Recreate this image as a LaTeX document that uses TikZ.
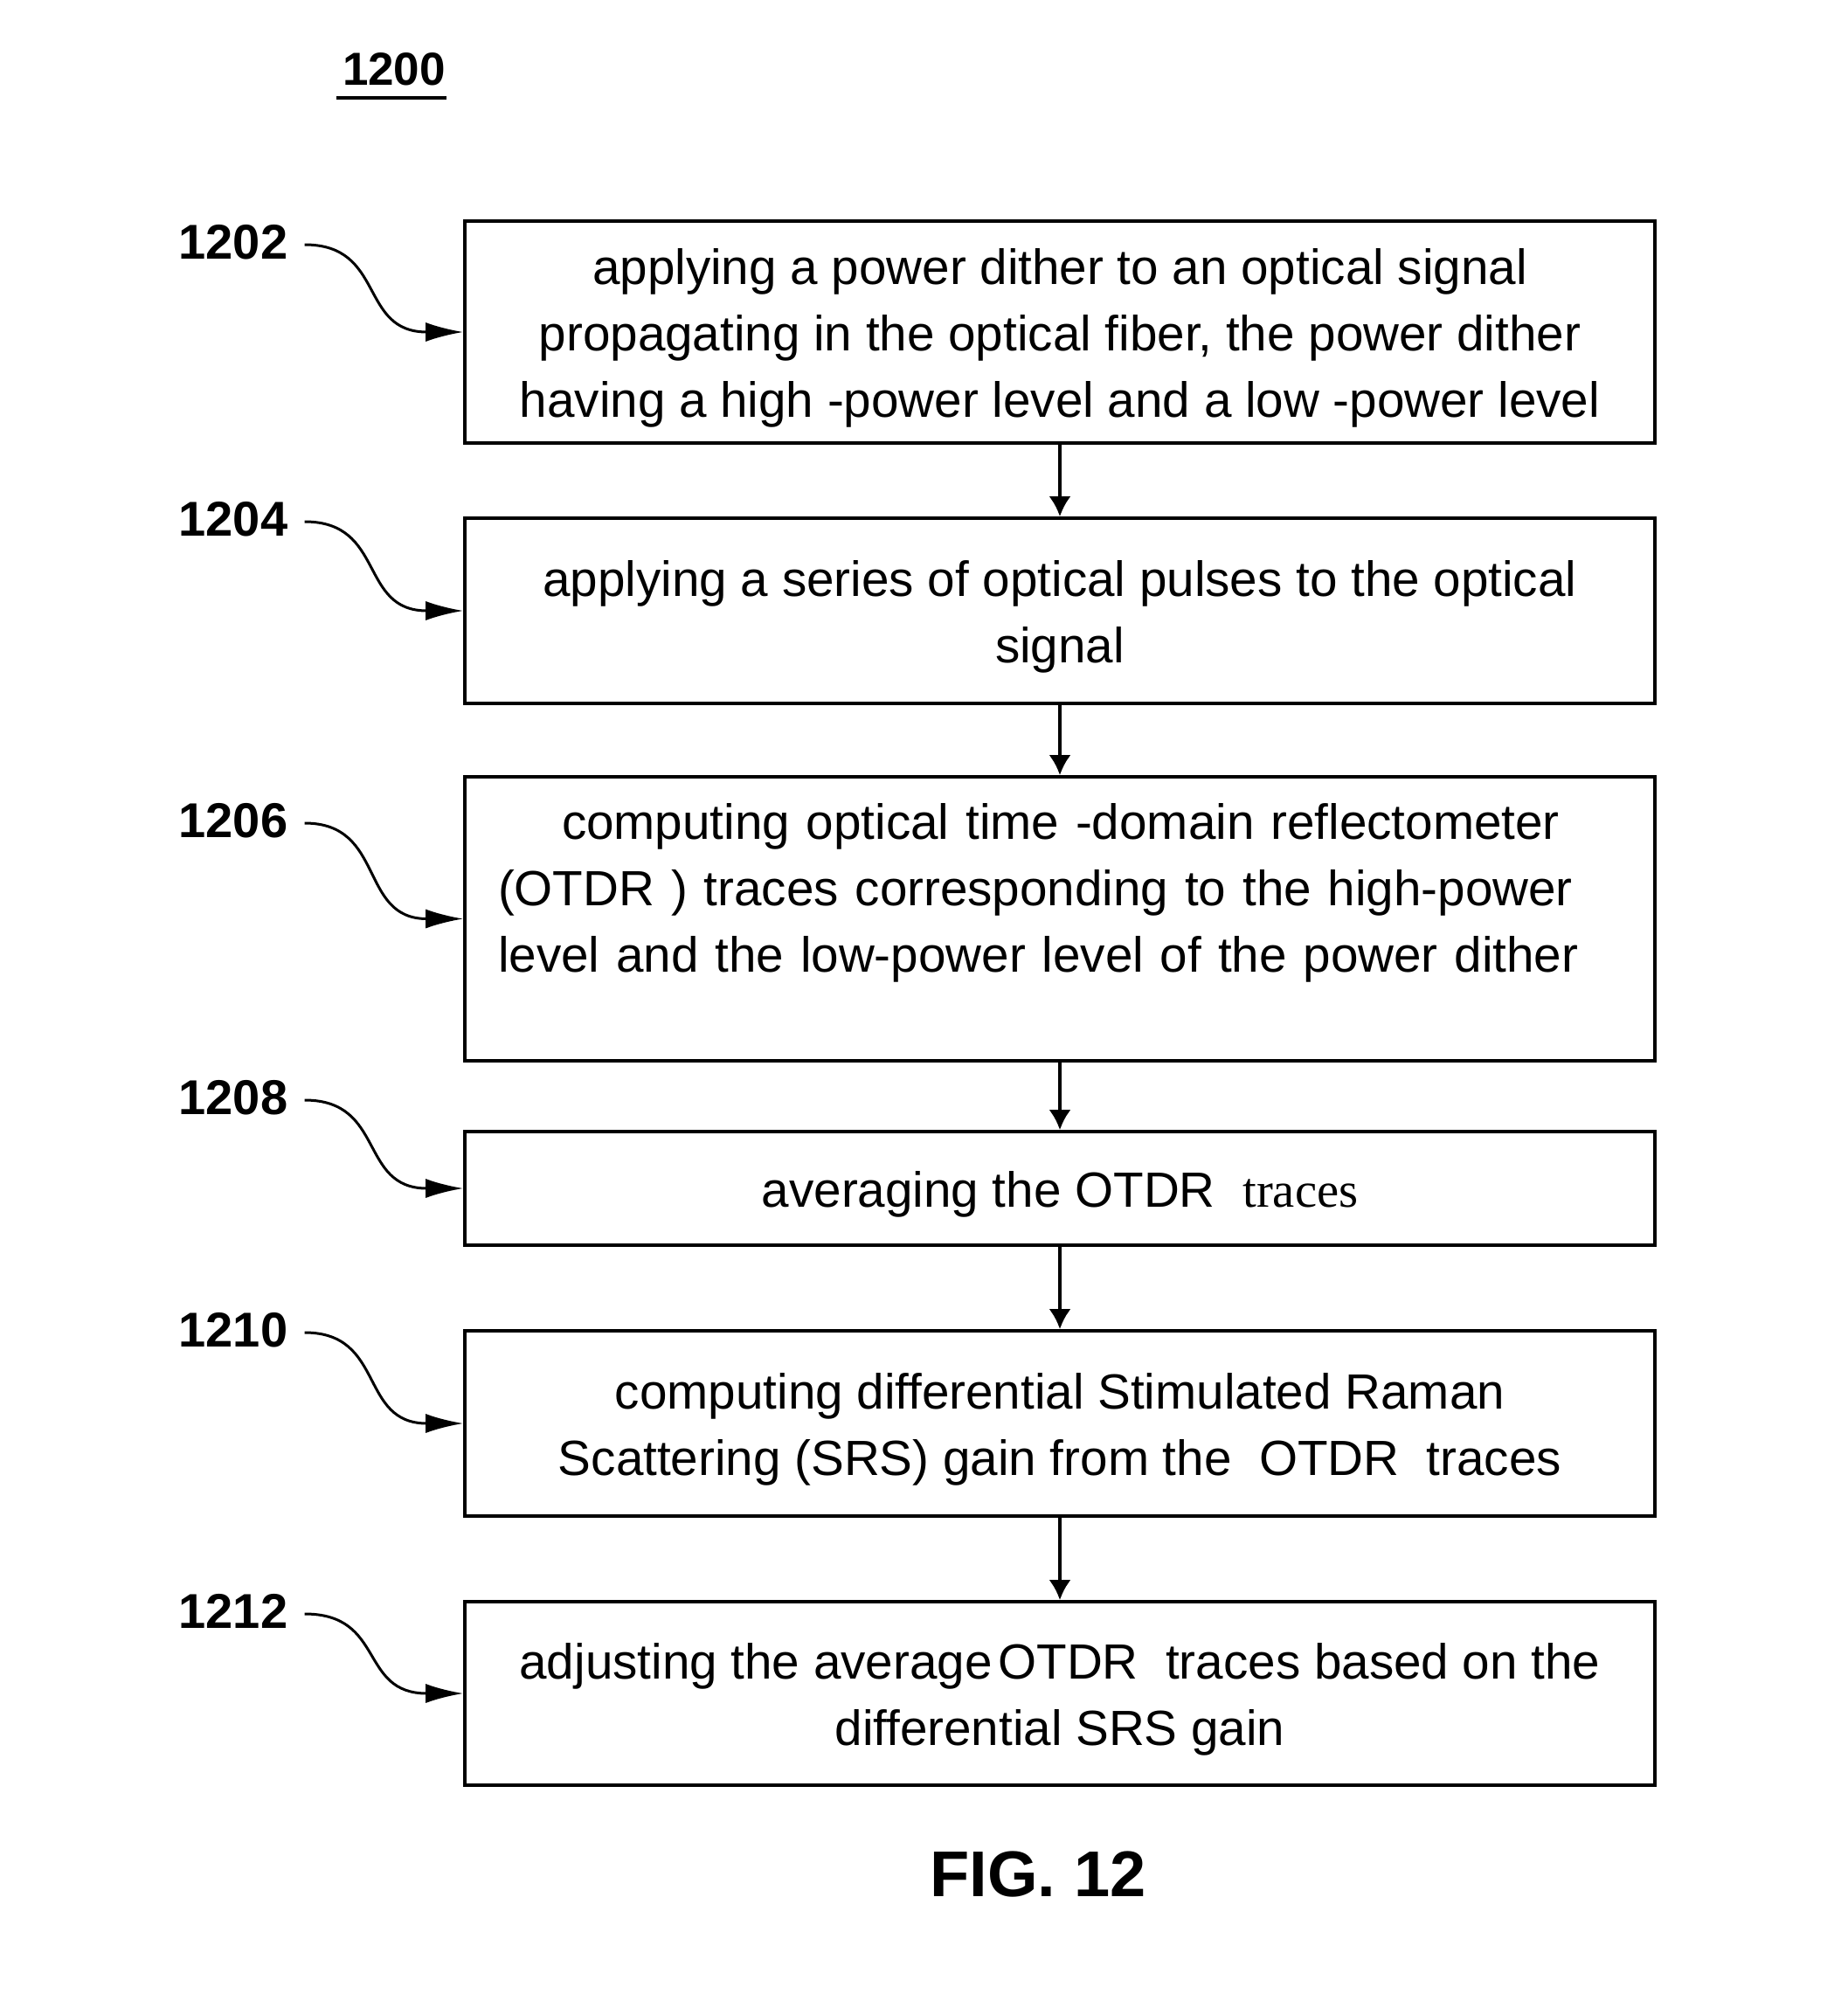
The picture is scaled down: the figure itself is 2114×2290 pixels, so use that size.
\documentclass[tikz,border=0pt]{standalone}
\usepackage{fontspec}
\setmainfont{Liberation Sans}
\newfontfamily\serifpart{Liberation Serif}
\usepackage{tikz}
\usetikzlibrary{arrows.meta,calc}
\tikzstyle{stepbox} =[
    draw=black,
    line width=1.8pt,
    rectangle,
    minimum width=681pt,
    inner sep=0pt,
    align=center,
    font=\fontsize{28.3}{38}\selectfont
    ]
\tikzstyle{steplabel} =[
    inner sep=0pt,
    font=\bfseries\fontsize{28}{34}\selectfont
    ]
\tikzstyle{leader} =[
    line width=1.5pt,
    -{Latex[length=21.5pt,width=11pt]}
    ]
\tikzstyle{flow} =[
    line width=2pt,
    -{Latex[length=11.5pt,width=12.5pt]}
    ]

\begin{document}
\begin{tikzpicture}[x=0.5pt,y=-0.5pt]
\useasboundingbox (0,0) rectangle (2114,2290);

\node[inner sep=0pt, font=\bfseries\fontsize{26.5}{32}\selectfont] (title) at (451,79) {1200};
\draw[line width=2pt] ($(title.south west)+(-7,14)$) -- ($(title.south east)+(1,14)$);

\node[stepbox, minimum height=127pt] (s1202) at (1213,380) {%
    \rule{0pt}{27pt}applying a power dither to an optical signal\\
    propagating in the optical fiber, the power dither\\
    having a high -power level and a low -power level};
\node[stepbox, minimum height=106pt] (s1204) at (1213,699) {%
    \rule{0pt}{27pt}applying a series of optical pulses to the optical\\
    signal};
\node[stepbox, minimum height=162.5pt, align=left, text width=643pt, inner xsep=19pt] (s1206) at (1213,1051.5) {%
    \rule{0pt}{34pt}\hspace*{36.5pt}computing optical time -domain reflectometer\\
    (OTDR ) traces corresponding to the high-power\\
    level and the low-power level of the power dither\\
    \strut};
\node[stepbox, minimum height=65pt] (s1208) at (1213,1360) {%
    \rule{0pt}{27pt}averaging the OTDR\ \ {\serifpart traces}};
\node[stepbox, minimum height=106pt] (s1210) at (1213,1629) {%
    \rule{0pt}{27pt}computing differential Stimulated Raman\\
    Scattering (SRS) gain from the\ \ OTDR\ \ traces};
\node[stepbox, minimum height=105pt] (s1212) at (1213,1938) {%
    \rule{0pt}{27pt}adjusting the average\hspace{0.12em}OTDR\ \ traces based on the\\
    differential SRS gain};

\node[steplabel] (n1202) at (267,277) {1202};
\node[steplabel] (n1204) at (267,594) {1204};
\node[steplabel] (n1206) at (267,939) {1206};
\node[steplabel] (n1208) at (267,1256) {1208};
\node[steplabel] (n1210) at (267,1522) {1210};
\node[steplabel] (n1212) at (267,1844) {1212};

\foreach \n in {1202,1204,1206,1208,1210,1212}
    \draw[leader] ($(n\n.east)+(19,3)$) .. controls +(93,0) and +(-120,0) .. (s\n.west);

\foreach \a/\b in {1202/1204,1204/1206,1206/1208,1208/1210,1210/1212}
    \draw[flow] (s\a) -- (s\b);

\node[inner sep=0pt, font=\bfseries\fontsize{37}{44}\selectfont] (fig) at (1188,2145) {FIG. 12};
\end{tikzpicture}
\end{document}
